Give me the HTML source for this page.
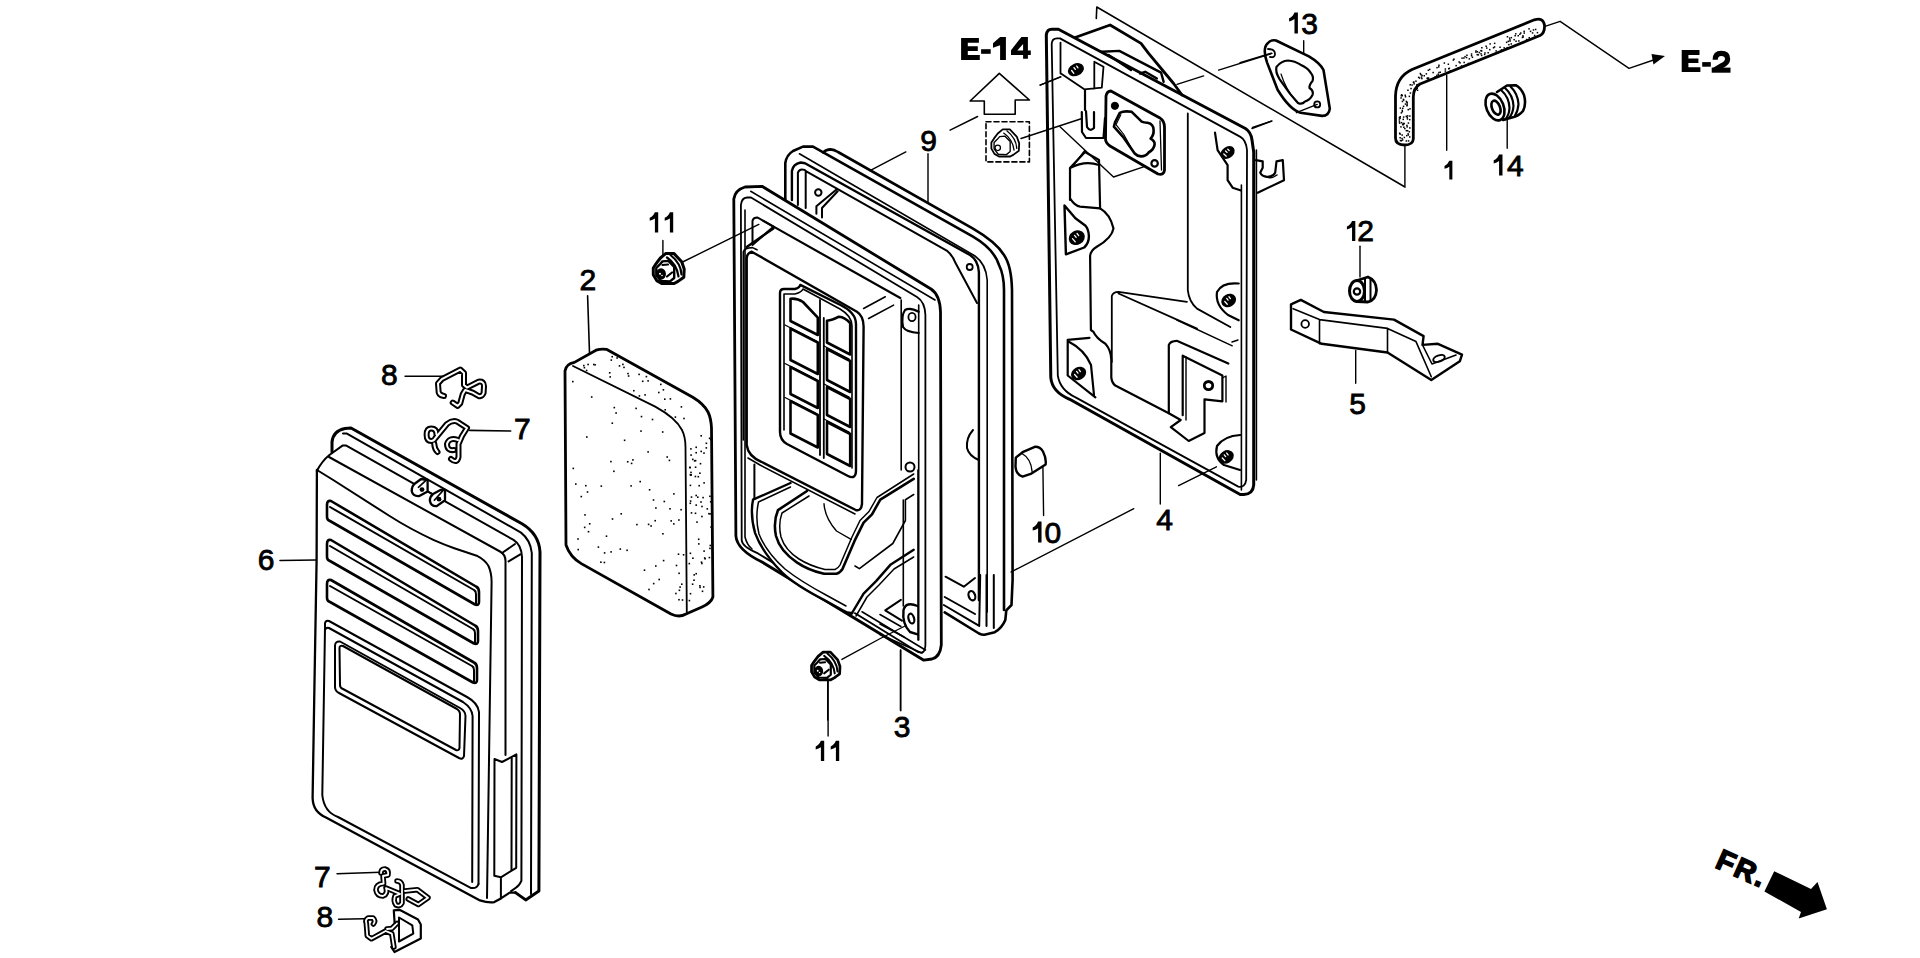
<!DOCTYPE html>
<html><head><meta charset="utf-8"><style>
html,body{margin:0;padding:0;background:#fff;width:1920px;height:958px;overflow:hidden}
svg{position:absolute;left:0;top:0;display:block}
text{font-family:"Liberation Sans",sans-serif;fill:#000}
</style></head><body>
<svg width="1920" height="958" viewBox="0 0 1920 958">
<g fill="none" stroke="#000" stroke-width="2" stroke-linejoin="round" stroke-linecap="round">
<!-- LID part 6 -->
<path stroke-width="3" d="M332,452 L332,442 Q333,431 345,428.5 L351,428 L522,523.8 Q539,534 540,552 L538.9,891.1 L525.7,899.9 L515.5,892.6"/>
<path d="M343,433.4 L346.5,433.4 L521,532.6 Q530.5,540 531.8,553 L531,894"/>
<path d="M316.8,471 Q322,461 329.4,455 L342.5,445.6 L346.3,445.6 L513.5,539.9 Q521.5,545 522,557 L521.4,880.9 Q519,886 516.2,887.5 L511.1,891.1"/>
<path d="M329,457 L500,551.5 Q505.5,554.5 505.5,561 L505.5,755"/>
<path d="M502,553 L515,544 M508.6,561.4 L520.3,554.4"/>
<path d="M317,470 L333.2,480 L389.6,516 Q410,529 433.9,540.1 Q445,545 454.3,548.2 L476.7,555.7 Q485,560 488.5,566 Q491.6,573 491.6,582 L487,898"/>
<path stroke-width="2.3" d="M316.9,470 L316.6,560 L314.2,700 L312.6,798 Q313,812 326,817.5 L480,900.4 Q488,903 494.3,902.1 L500.9,898.4 L509.7,892.6 L515.5,892.6"/>
<!-- slots -->
<path stroke-width="2.6" d="M327,505 Q327,500 331,501 L476,586.5 Q479,588 479,592 L479,602 Q479,606 475,604.5 L330,521 Q327,520 327,517 Z"/>
<path d="M330,507 L474,590 Q476,591 476,594 L476,604"/>
<path stroke-width="2.6" d="M327,544 Q327,539 331,540 L475,625.5 Q478,627 478,631 L478,641 Q478,645 474,643.5 L330,561 Q327,560 327,557 Z"/>
<path d="M330,546 L473,629 Q475,630 475,633 L475,643"/>
<path stroke-width="2.6" d="M327,584 Q327,579 331,580 L474,662.5 Q477,664 477,668 L477,680 Q477,684 473,682.5 L330,602 Q327,601 327,598 Z"/>
<path d="M330,586 L472,666 Q474,667 474,670 L474,682"/>
<!-- recess -->
<path d="M325,628 L325,623 Q326,620 329,621 L467,697 Q478,703 479,712 L478.5,884"/>
<path d="M325,630 Q326,627 329,628 L463,702 Q472,708 472.6,716 L472.2,882"/>
<path d="M325,628 L322.3,795 Q324,812 338,817 L470.7,887.9 Q477,889 478.5,884"/>
<!-- window -->
<path d="M335,646 Q335,641 340,641.5 L460,708 Q465.5,711 465.5,716 L464,756 Q463,760 459,758 L339,693 Q335,691 335,687 Z"/>
<path d="M339.5,648 Q339.5,645 343,646 L457,709 Q460,711 460,714 L459.5,748 Q459,751 456,750 L343,689 Q340,688 340,685 Z"/>
<!-- side slot -->
<path d="M494.3,875.8 L494.5,759 L502,762 L516.4,754.4 L516.2,867.8 L500.9,877.3 Z M500.9,877.3 L500.9,898.4"/>
<path d="M511.7,758 L511.5,870"/>
<!-- tabs -->
<path fill="#fff" stroke-width="2.3" d="M427.6,480 L427.6,491.4 L419.3,496 Q413,496.5 411.8,491.5 Q411.5,486 415,483.5 L421.1,479 Z"/><path stroke-width="1.6" d="M418.4,487.3 L425.7,480.6 M427.6,491.4 L431.7,493.5"/>
<path fill="#fff" stroke-width="2.3" d="M445,490 L445,500.2 L436.7,506.1 Q431,506.5 429.9,501 Q429.8,496.5 433,494 L440.4,490 Z"/><path stroke-width="1.6" d="M434.3,500.2 L442.3,491.4"/>
</g>
<g fill="none" stroke="#000" stroke-linejoin="round" stroke-linecap="round">
<!-- PART 9 gasket -->
<g id="p9">
<path stroke-width="2.6" d="M785.3,200 L785.3,163 Q786.5,155 793,151 L803,146.6 L813,146.6 L973,236.7 Q994,249 999,265 Q1004,275 1004,290 L1004,610"/>
<path stroke-width="2.6" d="M823.2,152.5 Q826,149.4 830.5,149.4 Q834,149.5 838,152 L973,228.7 Q996,242 1004,255 Q1011.5,266 1012,290 L1012.6,580 L1011.5,605 L1006.3,610.3 L1005.3,620 Q1002,628 994.8,632.2 L984.4,634.8 Q982,635 979,633.5 L944.7,612.4"/>
<path stroke-width="1.6" d="M799.4,153.8 L975,256 Q986,264 987.2,280 L987.2,612"/>
<path stroke-width="2.4" d="M791.9,200 L791.9,171 Q793,164 800.7,162.5 L805,163.2 L970,255 Q978,260 978.9,272 L978.9,600"/>
<path stroke-width="2" d="M797.9,205 L797.9,172.6 Q799,169.4 801.9,169.4 Q805,169.4 806.3,171.3 L946.7,250.6 Q953,256 955,262 L977,303 M805.7,171.3 L805.7,208"/>
<path stroke-width="2" d="M816.4,213.8 L816.4,206.3 L836.5,189.4 M822,217.6 L822,208 L837.7,191.3"/>
<circle cx="818.3" cy="192.5" r="3.2" stroke-width="2"/>
</g>
<!-- PART 3 filter case -->
<g id="p3">
<path stroke-width="2.8" fill="#fff" d="M735.9,536 L733.8,199 Q735,190 745,187 L762,186.3 L931,289 Q940,295 940.5,312 L941.3,645 Q940,657 932,659 L923.8,660.2 L762,562 Q737,550 735.9,536 Z"/>
<path stroke-width="1.6" d="M750.7,191.3 L935,300"/>
<path stroke-width="1.8" d="M741.7,540 L740.9,205 Q741.5,198 747,197.5 L751,197.5 L917,297 Q925,302 925.4,315 L925.4,645 Q925,655 918,652 L758,553.4 Q742,547 741.7,540 Z"/>
<path stroke-width="1.6" d="M745,210 L745,537 Q747,545 752,549 M862,611.8 L925.4,650"/>
<path fill="#fff" stroke="none" d="M753,499.7 L790.5,483 L855,512 L913.7,476 L913.7,547.7 L888.6,566.5 L876.1,581 L865.7,589.4 L855.3,612.3 L850,613.4 Q835,606 823.9,599.9 Q795,583 782.2,572.7 Q762,552 755.1,533.1 Q750,515 753,499.7 Z"/>

<!-- PART 2 foam -->
<path stroke-width="2.8" d="M565,371 Q566,364 574.4,362.4 L596,350.2 Q601,348.5 606.4,349.3 L692.8,397.2 Q704,404 708,412 Q711,418 711.5,428 L712.9,597 Q711,603 702,607 L686,614 Q679,618 671,614 L581.3,563.6 Q570,557 566,545 Z"/>
<path stroke-width="1.8" d="M573,366 L655.2,406.6 Q676,418 682,430 Q685.5,437 685.5,447 L686.8,612"/>
<path stroke-width="1.6" d="M587.6,295.7 L589.5,353"/>
<!-- nut 11 top -->
<g transform="translate(669,268.5)">
<path stroke-width="3" d="M-15.7,-0.5 L-12.7,-5.1 L-8.6,-10.5 L-3.1,-15.1 L4.8,-15.1 L12.7,-6.7 L15.2,0.4 L14.8,8.7 L9,12.9 L5.2,15 L-7.3,15 L-12.3,12.1 L-15.7,6.2 Z"/>
<path stroke-width="2.4" d="M-12.7,-0.5 L-9.4,-3.8 L-6.5,-7.1 L-0.6,-7.6 L5.2,-1.7 L5.2,9.5 L1,12.9 L-8.1,12.5 L-12.7,6.6 Z"/>
<path stroke-width="2.2" d="M-2,-11 Q8,-4 9.5,8 M1.5,-13.5 Q12,-5 12.5,6 M-6.5,-3.5 L-1,-4 M-2,8 L3,4"/>
<ellipse cx="-8" cy="5.6" rx="4.2" ry="5" fill="#000" stroke-width="1.5"/><circle cx="-9" cy="5.2" r="1" fill="#fff" stroke="none"/><circle cx="-7" cy="7" r="0.8" fill="#fff" stroke="none"/>

</g>
<path stroke-width="1.4" d="M662.9,240.4 L662.9,256.4 M682.6,262 L758.8,224.4"/>
<!-- nut 11 bottom -->
<g transform="translate(826,666) scale(0.92)">
<path stroke-width="3" d="M-15.7,-0.5 L-12.7,-5.1 L-8.6,-10.5 L-3.1,-15.1 L4.8,-15.1 L12.7,-6.7 L15.2,0.4 L14.8,8.7 L9,12.9 L5.2,15 L-7.3,15 L-12.3,12.1 L-15.7,6.2 Z"/>
<path stroke-width="2.4" d="M-12.7,-0.5 L-9.4,-3.8 L-6.5,-7.1 L-0.6,-7.6 L5.2,-1.7 L5.2,9.5 L1,12.9 L-8.1,12.5 L-12.7,6.6 Z"/>
<path stroke-width="2.2" d="M-2,-11 Q8,-4 9.5,8 M1.5,-13.5 Q12,-5 12.5,6 M-6.5,-3.5 L-1,-4 M-2,8 L3,4"/>
<ellipse cx="-8" cy="5.6" rx="4.2" ry="5" fill="#000" stroke-width="1.5"/><circle cx="-9" cy="5.2" r="1" fill="#fff" stroke="none"/><circle cx="-7" cy="7" r="0.8" fill="#fff" stroke="none"/>

</g>
<path stroke-width="1.4" d="M841.9,659.4 L880.3,638.5 L905,626 M827.7,679 L827.7,720 M900.4,650.2 L900.4,710.3"/>
<!-- nut in dashed box -->
<g transform="translate(1005.5,143) scale(0.9)">
<path stroke-width="2" d="M-15.7,-0.5 L-12.7,-5.1 L-8.6,-10.5 L-3.1,-15.1 L4.8,-15.1 L12.7,-6.7 L15.2,0.4 L14.8,8.7 L9,12.9 L5.2,15 L-7.3,15 L-12.3,12.1 L-15.7,6.2 Z"/>
<path stroke-width="1.5" d="M-12.7,-0.5 L-9.4,-3.8 L-6.5,-7.1 L-0.6,-7.6 L5.2,-1.7 L5.2,9.5 L1,12.9 L-8.1,12.5 L-12.7,6.6 Z"/>
<path stroke-width="1.4" d="M-2,-11 Q8,-4 9.5,8 M1.5,-13.5 Q12,-5 12.5,6"/>
<circle cx="-8.6" cy="5.4" r="3" stroke-width="1.4"/>
</g>
<rect x="986" y="121.8" width="43.4" height="40.1" stroke-width="1.6" stroke-dasharray="5,3"/>
<path stroke-width="1.4" d="M1021,138.5 L1082,118.5"/>

<!-- PART 4 base -->
<g id="p4">
<path stroke-width="1.6" d="M1096.3,18.4 L1096.8,7 L1405,187"/>
<path stroke-width="2.8" d="M1075.1,37.5 L1110.1,25 L1141,43.4 L1148.6,53.4 L1165.3,73.5 L1173.6,83.5 L1182,95"/>
<path stroke-width="3" d="M1050.8,377.5 L1046.3,35 Q1047,29.2 1051.7,29.2 L1058.4,29.2 L1245.4,128.5 Q1251,132 1252,140 L1253.7,152 L1253.7,485 Q1253,494 1244,494.5 L1240.2,494.5 L1069.7,399.3 Q1052,392 1050.8,377.5 Z"/>
<path stroke-width="1.8" d="M1057.8,375.5 L1051.7,44 Q1052,38.4 1057,38.4 L1060,38.4 L1240.4,136.9 Q1246,140 1247,150 L1246.2,480 Q1245,488 1238.3,486.6 L1075.6,397.4 Q1060,390 1057.8,375.5 Z"/>
<path stroke-width="2.4" d="M1101.8,51.7 L1119.3,50.9 L1161.1,72.6 L1163.6,81.8 M1108.5,55.1 L1131,70 M1140.2,73.5 L1145.2,71.8 L1156.9,78.5"/>
<path stroke-width="1.8" d="M1060.5,42.6 L1060.5,73.5 M1060.9,73.5 L1084.3,89.3 L1101.8,87.7 L1103.5,66.8 L1094.3,61.8 M1094.3,61.8 L1094.3,88.5"/>
<g transform="translate(1075.9 69.7) rotate(-25)"><ellipse rx="7.6" ry="5.4" fill="#000" stroke="#000" stroke-width="1.5"/><path stroke="#fff" stroke-width="1.3" d="M-4.2,-1.1 L-3.4,2.4 M-0.8,-2.7 L-0.4,-0.5 M2.3,-3.0 L2.7,-0.8"/></g>
<path stroke-width="1.4" d="M1040,85.1 L1060.9,76.8 M1177,84.3 L1203.6,75.9 M1218.6,70.1 L1272,53.4 M1252,128.5 L1272,121"/>
<!-- flange -->
<path stroke-width="2.8" d="M1106,96 Q1107,91 1110.9,91 L1159.5,117.7 Q1164.5,121 1164.5,127 L1164.5,170 Q1164,175.5 1158,174 L1110,146 Q1105.5,143 1105.5,139 Z"/><path stroke-width="1.3" d="M1160,121 L1161.5,170"/>
<path stroke-width="2.6" d="M1114.9,122.7 L1119.8,112.8 Q1124,110.5 1131.7,111.8 L1141.7,121.7 Q1144,122.8 1147.6,122.7 Q1153.6,124 1153.6,130 Q1154,135 1150.6,138.6 Q1155,141 1154.6,144.5 Q1154,149.5 1148.6,152.5 Q1146,156.4 1141,156.4 Q1137,156 1134.7,153.5 L1122.8,136.6 L1113.9,126.7 Z"/>
<path stroke-width="1.2" d="M1120.8,114.8 L1116,124.7 L1123.8,134.5 L1133,151"/>
<circle cx="1114.9" cy="105.8" r="3.6" fill="#000" stroke-width="1"/>
<circle cx="1154.6" cy="163.4" r="3.2" stroke-width="2.2"/>
<!-- U slot -->
<path stroke-width="2.2" d="M1081.8,112 L1082,132 L1086,138 L1103.5,138 L1105,118 M1086,111 L1087,127 Q1090,132 1094,128 L1094,112 M1085,90 L1085,110"/>
<path stroke-width="1.4" d="M1060,126.8 L1085,150.2 L1113.5,177 L1143.5,166.9 M1085,150.2 L1073.4,165.2"/>
<!-- left cylinder boss -->
<path stroke-width="2.2" d="M1070,200 L1070,168 L1085,152 L1099,160 L1100.1,208.4 M1070,168 Q1085,160 1099,165 M1070,198.4 Q1075,206 1080.1,206.7 L1100.1,208.4"/>
<path stroke-width="2.2" d="M1100.1,208.4 Q1110,214 1113.5,228.4 Q1112,238 1096.8,246.8 Q1090,251 1090.1,256.8 L1090.9,330 L1093.5,331.9 Q1096,338 1105.4,343.8 Q1111,350 1111.3,359.7 L1111.3,377.5 Q1112,383 1115.3,385.5 L1168.8,413.2"/>
<path stroke-width="2.4" d="M1064.5,205.4 L1065.9,254.3 L1084.2,247.5 Q1089,243 1088.9,236 Q1088.5,229 1085.5,225.8 L1075.4,218.3 Z"/>
<g transform="translate(1076.8 237.7) rotate(-30)"><ellipse rx="7.6" ry="6.3" fill="#000" stroke="#000" stroke-width="1.5"/><path stroke="#fff" stroke-width="1.3" d="M-4.2,-1.3 L-3.4,2.8 M-0.8,-3.1 L-0.4,-0.6 M2.3,-3.5 L2.7,-0.9"/></g>
<path stroke-width="2.2" d="M1067.7,339.8 L1067.7,375.5 L1095.4,397.4 M1067.7,339.8 L1089.5,337.9 M1067.7,341 Q1085,350 1091,365 L1094,395"/>
<g transform="translate(1078.6 373.5) rotate(-30)"><ellipse rx="7.2" ry="5.6" fill="#000" stroke="#000" stroke-width="1.5"/><path stroke="#fff" stroke-width="1.3" d="M-4.0,-1.1 L-3.2,2.5 M-0.7,-2.8 L-0.4,-0.6 M2.2,-3.1 L2.5,-0.8"/></g>
<!-- center lower recess -->
<path stroke-width="1.8" d="M1187.8,113.5 L1187.8,290.2 Q1189,302 1197,308.6 L1230.3,327 M1111.8,362 L1111.8,296 Q1113,292 1118.5,291.9 L1186.9,301.9 M1118.5,293.5 L1197,328.6"/>
<!-- L bracket -->
<path stroke-width="2.2" d="M1168.8,413.2 L1168.8,345 Q1170,341 1176.8,340.8 L1228.3,363.6 M1182.7,415.2 L1182.7,355.7 L1222.4,375.5 L1222.4,401.3 L1204.5,399.3 L1204.5,433 L1188.7,441 L1170.8,427.1 L1180.7,420 L1168.8,413.2"/>
<path stroke-width="1.4" d="M1186,357 L1186,420 M1222.4,378 L1226,376 L1226,402"/>
<circle cx="1208.5" cy="385.5" r="4.2" stroke-width="2.8"/><path stroke-width="1.6" d="M1206,383 Q1208,381.5 1211,383"/>
<!-- right studs / bosses -->
<path stroke-width="2.2" d="M1238.7,283.5 Q1222,282 1217,292 Q1215,305 1228,315 L1238.7,320.3"/>
<g transform="translate(1228.7 300.5) rotate(-30)"><ellipse rx="7.0" ry="5.6" fill="#000" stroke="#000" stroke-width="1.5"/><path stroke="#fff" stroke-width="1.3" d="M-3.9,-1.1 L-3.1,2.5 M-0.7,-2.8 L-0.4,-0.6 M2.1,-3.1 L2.4,-0.8"/></g>
<path stroke-width="2.2" d="M1240.2,435 Q1224,436 1217,446 Q1214,458 1224,465 L1240,470"/>
<g transform="translate(1226.3 456.9) rotate(-30)"><ellipse rx="7.2" ry="5.6" fill="#000" stroke="#000" stroke-width="1.5"/><path stroke="#fff" stroke-width="1.3" d="M-4.0,-1.1 L-3.2,2.5 M-0.7,-2.8 L-0.4,-0.6 M2.2,-3.1 L2.5,-0.8"/></g>
<path stroke-width="2.2" d="M1215,132.6 L1217.6,150.1 L1227.6,165.2 L1227.6,180.2 L1232.6,187.7 L1241,190.5"/>
<g transform="translate(1227.6 152.6) rotate(-35)"><ellipse rx="7.0" ry="5.0" fill="#000" stroke="#000" stroke-width="1.5"/><path stroke="#fff" stroke-width="1.3" d="M-3.9,-1.0 L-3.1,2.2 M-0.7,-2.5 L-0.4,-0.5 M2.1,-2.8 L2.4,-0.8"/></g>
<path stroke-width="2.2" d="M1256,160.2 L1262.7,161.4 L1262.7,167.7 L1260.2,172.7 Q1262,177 1267.7,176.8 Q1274,176 1275.2,172.7 L1276.5,161.4 L1282.8,160.2 L1284,180.2 L1257.7,192.7"/>
<path stroke-width="1.4" d="M1265,176 Q1270,180 1277,175"/>
<path stroke-width="1.6" d="M1241.4,185 L1241.4,490 M1256.4,150 L1256.4,480"/>
<path stroke-width="1.4" d="M1176.8,320 L1232.3,345.8 M1232,342 L1238,340"/>
</g>

<!-- gasket 13 -->
<path stroke-width="2.6" d="M1267.1,62.6 Q1262,48 1268,43 Q1271,39.5 1276,40.5 L1308.9,56.4 Q1320,63 1323.5,70 L1329.8,108.6 Q1329,116 1322,115.9 L1300.5,112.7 Q1290,110 1277.6,89.8 Z"/>
<path stroke-width="2.2" d="M1276.5,66.8 Q1281,61 1288,60.5 Q1295,61 1300.5,64.7 Q1308,68 1311,73.1 Q1314,77 1312.5,81 Q1309,85 1309.5,88 Q1314,91 1312.5,95 Q1310,100 1305,101.5 Q1302,105 1298,103 L1290.1,93.9 L1279.7,79.3 Q1275,72 1276.5,66.8 Z"/>
<path stroke-width="1.2" d="M1281,74 Q1286,90 1296,101"/>
<path stroke-width="1.8" d="M1268,49 Q1275,49 1275,54 Q1275,58 1270,57"/>
<circle cx="1317.2" cy="104.4" r="3" stroke-width="1.8"/>
<path stroke-width="1.4" d="M1303.7,40.7 L1303.7,54.3 M1240,62.6 L1271.3,53.2 M1296.4,112.7 L1317.2,104.4 M1252.5,127.3 L1271.3,121.1"/>
<!-- tube 1 -->
<path stroke-width="2.8" d="M1395.5,138 L1395.5,96 Q1396,77 1412,69.5 L1534.4,19.8 Q1543,17 1544.5,25 Q1545,33 1540,35.5 L1420,84 Q1413.3,88 1413.3,97 L1413.3,139 Q1413,145 1404.5,145 Q1395.5,145 1395.5,138 Z"/>
<path stroke-width="1.4" d="M1404.9,146.1 L1404.9,185.8 M1446.7,75.2 L1446.7,150.3 M1545,26.3 L1560.1,21.3 L1629,68.3 L1658,58.5"/>
<path fill="#000" stroke="none" d="M1665,56 L1651.5,54 L1653.5,64.5 Z"/>
<!-- grommet 14 -->
<path stroke-width="2.6" d="M1497,92 L1507,85.5 L1515.7,85.2 Q1521,88 1524,95 Q1526.5,104 1523,111 Q1519,116 1512,117.5 L1503,120"/>
<path stroke-width="2.2" d="M1501.5,90.5 Q1509,97 1509.5,108 Q1509,116 1505,119.5 M1505,88 Q1513,95 1513.5,106 Q1513,113 1509.5,117.5 M1510.5,86.5 Q1518,94 1518.5,104 Q1518,111 1515,115.5"/>
<ellipse cx="1495" cy="107" rx="8.6" ry="14" transform="rotate(-22 1495 107)" fill="#fff" stroke-width="2.6"/>
<ellipse cx="1496" cy="107.7" rx="4" ry="7.4" transform="rotate(-22 1496 107.7)" stroke-width="2.6"/>
<path stroke-width="1.4" d="M1507.2,117 L1507.2,148.2"/>
<!-- nut 12 -->
<ellipse cx="1357" cy="291" rx="7.5" ry="10.5" stroke-width="3"/>
<circle cx="1357" cy="291.5" r="3.2" stroke-width="2.2"/>
<path stroke-width="2.8" d="M1357,280.5 L1368,277 Q1376,280 1376.5,290 Q1376,300 1368,302 L1357,301.5"/>
<path stroke-width="2" d="M1365,279 L1365,301 M1370.5,279 L1370.5,300.5"/>
<path stroke-width="1.4" d="M1360,246.2 L1360,277"/>
<!-- bracket 5 -->
<path stroke-width="2.4" d="M1291,304.3 L1300.8,299.9 L1323.9,312 L1394,319.6 L1423.6,336.1 L1422.5,344.9 L1437.9,343.8 L1462,354.7 L1459.8,361.3 L1431.3,380 L1387.5,352.5 L1321.7,343.8 L1291,329.5 Z"/>
<path stroke-width="1.6" d="M1293.2,308.7 L1319.5,319.6 L1319.5,343.8 M1319.5,319.6 L1387.5,328.4 L1387.5,352.5 M1387.5,328.4 L1416,341.6 L1431.3,376.7 M1425,350 L1432,364 L1456,355 M1422.5,344.9 L1425,350"/>
<ellipse cx="1439" cy="358.5" rx="6" ry="3" transform="rotate(-20 1439 358.5)" stroke-width="2"/>
<circle cx="1305.2" cy="324" r="3.8" stroke-width="1.8"/>
<path stroke-width="1.4" d="M1355.7,350.4 L1355.7,383.2"/>
<!-- part 10 cylinder -->
<g transform="translate(0,0.5)"><path stroke-width="2.4" d="M1015.8,457.1 L1022.6,451.7 L1034.8,446.3 Q1040,446 1043,451 Q1046.5,458 1045.6,464 L1030.7,473.4 L1022.6,476.1 Q1016,474 1015.5,466 Z"/>
<path stroke-width="1.4" d="M1022,453 Q1031,458 1032.1,471"/></g>
<path stroke-width="1.4" d="M1042.9,466.6 L1043.6,515.5 M1160.3,453.1 L1160.3,504 M1011,572 L1133.8,508.7 M1178.6,485.6 L1216.4,466.8"/>
<!-- leaders 3, 11 bottom -->
<path stroke-width="1.4" d="M828.1,680 L828.1,736 M900.8,650 L900.8,710.7"/>
<!-- FR arrow -->
<path fill="#000" stroke="none" d="M1774.2,871.2 L1811,889 L1817.5,882 L1826.9,909.2 L1798.7,918.6 L1801,912 L1764.4,891.4 Z"/>
<!-- E-14 arrow -->
<path stroke-width="1.6" d="M999.3,73.4 L1029.4,100 L1015.2,100 L1015.2,114.3 L984.3,114.3 L984.3,101 L970.1,101 Z"/>
<!-- 9 leaders -->
<path stroke-width="1.4" d="M928,153.6 L928,203 M905.8,151.9 L870,170.7 M950.1,130.2 L977.6,116.5 M1040.2,85.1 L1060.3,76.8"/>
<!-- leaders for 6,7,8 -->
<path stroke-width="1.6" d="M280,560.5 L316,560 M405.1,376.3 L443.5,376.3 M469.7,430.4 L510.7,431 M337.1,873.8 L380.6,872.3 M338.6,919.3 L364.2,918.8"/>

<!-- part3 inner: box face -->
<path stroke-width="2.4" d="M746.7,445 L746.7,258 Q747,253.4 751.7,251.7 L856.9,311.8 Q863.6,316 863.6,326.8 L862,504 Q861,512 855.3,509.8 L761.3,461.8 Q748,456 746.7,445"/>
<path stroke-width="1.6" d="M743.3,440 L743.3,252 Q744,248 752.5,247.6 L757,249.8 M748,458 L760,465 L855,514"/>
<!-- gusset top-left -->
<path stroke-width="2" d="M752.5,245 L752.5,221 Q753,217.5 757.6,217.5 L763.4,220.9 L773.4,226.7 L752.5,245"/>
<path stroke-width="2.4" d="M773.4,228.4 L746.7,247"/>
<path stroke-width="2.2" d="M763.4,220.9 L900.3,298"/>
<path stroke-width="1.6" d="M863.6,308.5 L885.3,296.8 M868.6,318.5 L893.6,305.1"/>
<path stroke-width="1.6" d="M901.2,300 L901.2,470 M918.7,305 L918.7,640"/>
<path stroke-width="2.2" d="M918.7,311.8 Q910,307 905,310 Q901,316 903,327 Q906,332 918.7,333"/>
<ellipse cx="912" cy="317" rx="3.6" ry="4.2" stroke-width="1.8"/>
<!-- grid panel -->
<path stroke-width="2.4" d="M780,432 L780,293 Q780,289 784,289 L794.9,289 Q800,287.5 800.3,284.9 L841,305.3 Q856,313 856,324 L856,470 Q856,480 848,476 L787,444 Q780,440 780,432 Z"/>
<path stroke-width="1.6" d="M784,430 L784,294 L795,294 Q802,292 803,289 L840,309 Q852,316 852,326 L852,468"/>
<path stroke-width="1.8" d="M820,300 L820,455 M823.8,318 L823.8,458"/>
<path stroke-width="2.6" d="M790.5,298.8 Q797,298 803,302 L817.8,317.6 L817.8,335 L790.5,321 Z"/>
<path stroke-width="2.6" d="M790.5,328.5 L817.8,342.5 L817.8,374 L790.5,360 Z"/>
<path stroke-width="2.6" d="M790.5,367 L817.8,381 L817.8,408 L790.5,394 Z"/>
<path stroke-width="2.6" d="M790.5,401 L817.8,415 L817.8,447.5 L790.5,433.5 Z"/>
<path stroke-width="2.6" d="M827,320.8 Q832,320.4 838.9,316.7 Q845,317 850.2,323.2 L850.2,354.5 L827,342.5 Z"/>
<path stroke-width="2.6" d="M827,349 L850.2,361 L850.2,392 L827,380 Z"/>
<path stroke-width="2.6" d="M827,387 L850.2,399 L850.2,427 L827,415 Z"/>
<path stroke-width="2.6" d="M827,422 L850.2,434 L850.2,466 L827,454 Z"/>
<path stroke-width="1.4" d="M785,325 L816,341 M785,363.5 L816,379.5 M785,397.5 L816,413.5 M824,346 L849,359 M824,384 L849,397 M824,419 L849,432"/>
<!-- duct -->
<path stroke-width="2.4" d="M790.5,483 L753,499.7 Q750,515 755.1,533.1 Q762,552 782.2,572.7 Q795,585 823.9,599.9 L842.7,610.3 Q848,613.5 852,613"/>
<path stroke-width="1.5" d="M790.5,487 L758.5,502 Q755,518 759,534 Q766,552 785,569 Q800,581 826,595 L846,606"/>
<path stroke-width="2.6" d="M807,491 L778,510.1 Q773,522 776,536 Q780,551 796.8,562.3 Q808,570 824,573.8 L836.5,573.8 Q840.5,572.5 842.7,568.6 L855.3,539.3 L863.6,522.6 L872,514.3 L880.3,499.7 L913.7,478.8"/>
<path stroke-width="1.5" d="M809,496 L782,513 Q778,524 781,537 Q785,550 799,559 Q810,566 825,569.5 L835,569.5 Q838,568.5 840,565 L852,537 L860,520.5 L869,511.5 L877,497.5 L913.7,474"/>
<path stroke-width="1.4" d="M824,503.8 Q825,518 836.5,531 L851.1,539.3"/>
<path stroke-width="2" d="M754.4,464.5 L754.4,499"/>
<path stroke-width="2.4" d="M851.1,614.5 L863.6,593.6 L876.1,581.1 L890.8,564.4 L913.7,549.8"/>
<path stroke-width="1.5" d="M856,616 L867,597 L879,585 L894,569 L913.7,557"/>
<path stroke-width="1.6" d="M859.4,568.6 L892.8,543.5 L905.4,520.5 L905.4,499.7 L913.7,494.5 M859.4,568.6 L855,566"/>
<path stroke-width="1.6" d="M903.3,500 L903.3,606 M918,470 L918,640"/>
<circle cx="910" cy="467" r="4.5" stroke-width="2"/>
<path stroke-width="2.4" d="M917.6,606 Q906,601 903.5,610 Q902,624 910,632 L917.6,634.3"/><ellipse cx="911.3" cy="618.6" rx="2.8" ry="5" transform="rotate(-15 911.3 618.6)" stroke-width="2.2"/>
<path stroke-width="2" d="M900.9,599.8 L885.2,610.3 L901.9,620.7"/>
<path stroke-width="1.6" d="M880,614.5 L900.9,626.5 M880,624 L904,637 M880,634.5 L921.8,653"/>
<!-- part9 right visible details -->
<path stroke-width="2" d="M973,430 Q966,438 967,448 Q969,456 978.9,460"/>
<path stroke-width="2" d="M945.5,576.7 L963.8,586.7 L975,578 M943.8,605 L979.2,625.9 L980.2,575 M944.7,597 L975,614 M986.5,575 L986.5,626 M993.8,575 L993.8,628"/>
<ellipse cx="971.9" cy="595.7" rx="3.2" ry="4.8" transform="rotate(-20 971.9 595.7)" stroke-width="2.2"/>
<circle cx="969.7" cy="267" r="3" stroke-width="1.8"/>

</g>
</g>
<g fill="#000"><circle cx="422" cy="489.6" r="2.4"/><circle cx="439" cy="499.2" r="2.4"/></g>
<g fill="#000"><rect x="643.7" y="569.4" width="1.6" height="1.6"/><rect x="635.3" y="407.6" width="1.6" height="1.6"/><rect x="588.9" y="523.0" width="1.6" height="1.6"/><rect x="640.2" y="430.3" width="1.6" height="1.6"/><rect x="668.6" y="459.6" width="1.6" height="1.6"/><rect x="681.0" y="583.4" width="1.6" height="1.6"/><rect x="679.3" y="586.3" width="1.6" height="1.6"/><rect x="611.5" y="422.4" width="1.6" height="1.6"/><rect x="605.7" y="535.4" width="1.6" height="1.6"/><rect x="577.4" y="548.8" width="1.6" height="1.6"/><rect x="655.0" y="565.2" width="1.6" height="1.6"/><rect x="572.0" y="380.8" width="1.6" height="1.6"/><rect x="675.1" y="592.7" width="1.6" height="1.6"/><rect x="632.1" y="459.1" width="1.6" height="1.6"/><rect x="590.9" y="396.2" width="1.6" height="1.6"/><rect x="648.2" y="588.7" width="1.6" height="1.6"/><rect x="663.5" y="500.7" width="1.6" height="1.6"/><rect x="577.2" y="538.2" width="1.6" height="1.6"/><rect x="626.3" y="549.5" width="1.6" height="1.6"/><rect x="652.9" y="582.8" width="1.6" height="1.6"/><rect x="587.7" y="530.9" width="1.6" height="1.6"/><rect x="680.3" y="508.9" width="1.6" height="1.6"/><rect x="652.7" y="499.2" width="1.6" height="1.6"/><rect x="681.7" y="599.2" width="1.6" height="1.6"/><rect x="626.9" y="461.0" width="1.6" height="1.6"/><rect x="611.7" y="518.2" width="1.6" height="1.6"/><rect x="678.1" y="519.2" width="1.6" height="1.6"/><rect x="636.1" y="523.8" width="1.6" height="1.6"/><rect x="651.7" y="418.7" width="1.6" height="1.6"/><rect x="620.4" y="513.0" width="1.6" height="1.6"/><rect x="647.8" y="523.6" width="1.6" height="1.6"/><rect x="623.8" y="439.5" width="1.6" height="1.6"/><rect x="586.0" y="436.2" width="1.6" height="1.6"/><rect x="597.6" y="546.3" width="1.6" height="1.6"/><rect x="583.9" y="526.6" width="1.6" height="1.6"/><rect x="575.0" y="483.3" width="1.6" height="1.6"/><rect x="678.3" y="572.5" width="1.6" height="1.6"/><rect x="662.1" y="533.0" width="1.6" height="1.6"/><rect x="678.2" y="598.9" width="1.6" height="1.6"/><rect x="610.3" y="551.1" width="1.6" height="1.6"/><rect x="613.1" y="470.5" width="1.6" height="1.6"/><rect x="603.6" y="561.7" width="1.6" height="1.6"/><rect x="678.6" y="589.5" width="1.6" height="1.6"/><rect x="600.1" y="561.4" width="1.6" height="1.6"/><rect x="572.5" y="467.6" width="1.6" height="1.6"/><rect x="675.7" y="564.7" width="1.6" height="1.6"/><rect x="584.2" y="514.1" width="1.6" height="1.6"/><rect x="630.8" y="462.6" width="1.6" height="1.6"/><rect x="630.3" y="485.1" width="1.6" height="1.6"/><rect x="654.4" y="519.9" width="1.6" height="1.6"/><rect x="670.4" y="520.1" width="1.6" height="1.6"/><rect x="650.3" y="525.2" width="1.6" height="1.6"/><rect x="673.1" y="493.1" width="1.6" height="1.6"/><rect x="666.4" y="456.2" width="1.6" height="1.6"/><rect x="648.8" y="489.0" width="1.6" height="1.6"/><rect x="658.4" y="578.7" width="1.6" height="1.6"/><rect x="661.9" y="431.2" width="1.6" height="1.6"/><rect x="662.8" y="559.8" width="1.6" height="1.6"/><rect x="682.8" y="554.0" width="1.6" height="1.6"/><rect x="677.7" y="553.4" width="1.6" height="1.6"/><rect x="603.8" y="552.1" width="1.6" height="1.6"/><rect x="639.4" y="480.8" width="1.6" height="1.6"/><rect x="640.7" y="415.8" width="1.6" height="1.6"/><rect x="613.5" y="406.8" width="1.6" height="1.6"/><rect x="673.0" y="523.1" width="1.6" height="1.6"/><rect x="600.5" y="485.3" width="1.6" height="1.6"/><rect x="655.1" y="507.2" width="1.6" height="1.6"/><rect x="580.5" y="495.8" width="1.6" height="1.6"/><rect x="585.0" y="484.9" width="1.6" height="1.6"/><rect x="669.2" y="508.0" width="1.6" height="1.6"/><rect x="647.3" y="451.1" width="1.6" height="1.6"/><rect x="586.7" y="491.2" width="1.6" height="1.6"/><rect x="610.1" y="460.8" width="1.6" height="1.6"/><rect x="619.5" y="548.3" width="1.6" height="1.6"/><rect x="615.3" y="412.2" width="1.6" height="1.6"/><rect x="689.4" y="466.8" width="1.6" height="1.6"/><rect x="699.1" y="585.0" width="1.6" height="1.6"/><rect x="688.5" y="562.8" width="1.6" height="1.6"/><rect x="708.1" y="512.9" width="1.6" height="1.6"/><rect x="697.9" y="538.5" width="1.6" height="1.6"/><rect x="690.7" y="512.1" width="1.6" height="1.6"/><rect x="692.0" y="458.6" width="1.6" height="1.6"/><rect x="697.0" y="496.4" width="1.6" height="1.6"/><rect x="691.8" y="583.4" width="1.6" height="1.6"/><rect x="694.6" y="475.7" width="1.6" height="1.6"/><rect x="694.8" y="459.8" width="1.6" height="1.6"/><rect x="699.1" y="472.4" width="1.6" height="1.6"/><rect x="708.8" y="437.5" width="1.6" height="1.6"/><rect x="709.1" y="495.5" width="1.6" height="1.6"/><rect x="703.3" y="550.3" width="1.6" height="1.6"/><rect x="709.3" y="513.1" width="1.6" height="1.6"/><rect x="703.2" y="452.3" width="1.6" height="1.6"/><rect x="703.3" y="482.1" width="1.6" height="1.6"/><rect x="692.1" y="557.4" width="1.6" height="1.6"/><rect x="689.0" y="466.6" width="1.6" height="1.6"/><rect x="690.2" y="471.6" width="1.6" height="1.6"/><rect x="709.9" y="501.0" width="1.6" height="1.6"/><rect x="695.4" y="494.7" width="1.6" height="1.6"/><rect x="694.7" y="512.5" width="1.6" height="1.6"/><rect x="704.3" y="558.0" width="1.6" height="1.6"/><rect x="693.8" y="460.1" width="1.6" height="1.6"/><rect x="709.2" y="547.6" width="1.6" height="1.6"/><rect x="698.0" y="543.1" width="1.6" height="1.6"/><rect x="688.6" y="599.8" width="1.6" height="1.6"/><rect x="705.6" y="442.5" width="1.6" height="1.6"/><rect x="689.5" y="502.5" width="1.6" height="1.6"/><rect x="710.3" y="526.3" width="1.6" height="1.6"/><rect x="696.2" y="521.3" width="1.6" height="1.6"/><rect x="690.1" y="448.1" width="1.6" height="1.6"/><rect x="699.3" y="586.6" width="1.6" height="1.6"/><rect x="689.7" y="592.9" width="1.6" height="1.6"/><rect x="689.6" y="473.9" width="1.6" height="1.6"/><rect x="689.8" y="500.3" width="1.6" height="1.6"/><rect x="697.5" y="475.9" width="1.6" height="1.6"/><rect x="689.6" y="484.6" width="1.6" height="1.6"/><rect x="709.9" y="438.5" width="1.6" height="1.6"/><rect x="699.7" y="462.9" width="1.6" height="1.6"/><rect x="700.2" y="501.2" width="1.6" height="1.6"/><rect x="695.4" y="446.5" width="1.6" height="1.6"/><rect x="700.4" y="450.6" width="1.6" height="1.6"/><rect x="701.7" y="590.5" width="1.6" height="1.6"/><rect x="693.2" y="579.4" width="1.6" height="1.6"/><rect x="700.4" y="435.0" width="1.6" height="1.6"/><rect x="701.1" y="515.7" width="1.6" height="1.6"/><rect x="702.3" y="496.8" width="1.6" height="1.6"/><rect x="708.6" y="556.8" width="1.6" height="1.6"/><rect x="698.4" y="484.9" width="1.6" height="1.6"/><rect x="693.4" y="574.1" width="1.6" height="1.6"/><rect x="695.4" y="451.9" width="1.6" height="1.6"/><rect x="705.5" y="447.1" width="1.6" height="1.6"/><rect x="695.4" y="572.9" width="1.6" height="1.6"/><rect x="690.3" y="454.3" width="1.6" height="1.6"/><rect x="690.4" y="474.1" width="1.6" height="1.6"/><rect x="701.2" y="505.7" width="1.6" height="1.6"/><rect x="689.9" y="474.2" width="1.6" height="1.6"/><rect x="689.6" y="552.5" width="1.6" height="1.6"/><rect x="694.8" y="466.4" width="1.6" height="1.6"/><rect x="690.7" y="496.3" width="1.6" height="1.6"/><rect x="695.4" y="504.3" width="1.6" height="1.6"/><rect x="700.7" y="561.4" width="1.6" height="1.6"/><rect x="702.9" y="586.1" width="1.6" height="1.6"/><rect x="701.1" y="562.7" width="1.6" height="1.6"/><rect x="706.5" y="508.1" width="1.6" height="1.6"/><rect x="709.5" y="544.7" width="1.6" height="1.6"/><rect x="703.9" y="557.2" width="1.6" height="1.6"/><rect x="609.4" y="376.1" width="1.6" height="1.6"/><rect x="622.1" y="363.6" width="1.6" height="1.6"/><rect x="587.3" y="363.7" width="1.6" height="1.6"/><rect x="608.9" y="372.0" width="1.6" height="1.6"/><rect x="611.4" y="355.9" width="1.6" height="1.6"/><rect x="664.0" y="398.4" width="1.6" height="1.6"/><rect x="583.0" y="364.8" width="1.6" height="1.6"/><rect x="594.3" y="364.0" width="1.6" height="1.6"/><rect x="674.6" y="416.3" width="1.6" height="1.6"/><rect x="647.3" y="380.1" width="1.6" height="1.6"/><rect x="627.2" y="372.8" width="1.6" height="1.6"/><rect x="616.3" y="357.2" width="1.6" height="1.6"/><rect x="644.3" y="394.1" width="1.6" height="1.6"/><rect x="660.0" y="383.6" width="1.6" height="1.6"/><rect x="638.3" y="373.6" width="1.6" height="1.6"/><rect x="658.0" y="391.7" width="1.6" height="1.6"/><rect x="683.2" y="417.7" width="1.6" height="1.6"/><rect x="593.0" y="363.7" width="1.6" height="1.6"/><rect x="680.6" y="406.1" width="1.6" height="1.6"/><rect x="627.8" y="375.2" width="1.6" height="1.6"/><rect x="664.4" y="409.0" width="1.6" height="1.6"/><rect x="638.6" y="395.1" width="1.6" height="1.6"/><rect x="645.6" y="375.8" width="1.6" height="1.6"/><rect x="669.6" y="398.1" width="1.6" height="1.6"/><rect x="585.8" y="369.7" width="1.6" height="1.6"/><rect x="583.6" y="366.9" width="1.6" height="1.6"/><rect x="633.0" y="389.9" width="1.6" height="1.6"/><rect x="623.2" y="366.6" width="1.6" height="1.6"/><rect x="610.5" y="359.3" width="1.6" height="1.6"/><rect x="641.9" y="380.5" width="1.6" height="1.6"/><rect x="662.6" y="389.0" width="1.6" height="1.6"/><rect x="618.7" y="365.1" width="1.6" height="1.6"/></g>
<g fill="none" stroke-linejoin="round" stroke-linecap="round">
<path stroke="#000" stroke-width="6" d="M444,396 Q438,395 438.5,390 L438,383.4 L441.8,379.2 L460.2,369.6 L464,373 L464,385 L466.9,387.6 L478.6,381.7 Q484,381 484,386 L483.6,393 Q482,397 478.6,396 L472.7,392.6 L465.2,390 L462.7,394.2 L460.2,403.4 L457.7,405.9 L452.7,402.6"/>
<path stroke="#fff" stroke-width="2" d="M444,396 Q438,395 438.5,390 L438,383.4 L441.8,379.2 L460.2,369.6 L464,373 L464,385 L466.9,387.6 L478.6,381.7 Q484,381 484,386 L483.6,393 Q482,397 478.6,396 L472.7,392.6 L465.2,390 L462.7,394.2 L460.2,403.4 L457.7,405.9 L452.7,402.6"/>
<path stroke="#000" stroke-width="6" d="M437.5,452 Q434.5,449 434.2,443.5 M436.5,434.5 Q436.5,428.6 431.3,428.6 Q426.6,428.6 426.6,434.8 Q426.6,441 431.3,441 Q434,441 435.5,438 L447,424 Q452,420 457,421.5 L467,428 L462,436 L458.5,444 L458.5,457 Q457,464 451,459 M458,440 Q449,437 447,444 Q447,451 454,450"/>
<path stroke="#fff" stroke-width="2" d="M437.5,452 Q434.5,449 434.2,443.5 M436.5,434.5 Q436.5,428.6 431.3,428.6 Q426.6,428.6 426.6,434.8 Q426.6,441 431.3,441 Q434,441 435.5,438 L447,424 Q452,420 457,421.5 L467,428 L462,436 L458.5,444 L458.5,457 Q457,464 451,459 M458,440 Q449,437 447,444 Q447,451 454,450"/>
<path stroke="#000" stroke-width="5.5" d="M381,873 Q381,869 385,869 Q389,870 388,875 L383,876 L383.6,883.5 Q376,884 376,890 Q377,896 383,896 Q388,894 386,888 L400,893.8 M397,881 Q401,881 402,885 L402,903 Q400,907 396,905 Q393,901 395,896 L400,894 M405,891 L417.4,889.7 L428,897.8 L418.4,904.5 L408.2,899"/>
<path stroke="#fff" stroke-width="1.8" d="M381,873 Q381,869 385,869 Q389,870 388,875 L383,876 L383.6,883.5 Q376,884 376,890 Q377,896 383,896 Q388,894 386,888 L400,893.8 M397,881 Q401,881 402,885 L402,903 Q400,907 396,905 Q393,901 395,896 L400,894 M405,891 L417.4,889.7 L428,897.8 L418.4,904.5 L408.2,899"/>
<path stroke="#000" stroke-width="5.5" d="M373.4,924 Q376,921 373,918 L368,918 Q365,920 366.3,923 L367.3,935.7 L371.4,938.8 L385.7,931 L391.8,933.6 L393.9,947 M397,923.4 L391.8,928.5 L387,929"/>
<path stroke="#fff" stroke-width="1.8" d="M373.4,924 Q376,921 373,918 L368,918 Q365,920 366.3,923 L367.3,935.7 L371.4,938.8 L385.7,931 L391.8,933.6 L393.9,947 M397,923.4 L391.8,928.5 L387,929"/><path stroke="#000" stroke-width="2.2" fill="none" d="M391.2,947 L394.5,952 L420.8,938.5 L420.8,924.5 L418,919.5 L399.5,909.8 L393.8,910.3 L394.6,923"/><path stroke="#000" stroke-width="2" fill="none" d="M399,917.5 L412.3,925.3 L413.3,933.6 L399,941.5 Z"/>

</g>

<g fill="#000"><rect x="1438.2" y="71.8" width="1.5" height="1.5"/><rect x="1492.8" y="47.0" width="1.5" height="1.5"/><rect x="1444.6" y="70.3" width="1.5" height="1.5"/><rect x="1513.4" y="38.9" width="1.5" height="1.5"/><rect x="1476.6" y="51.0" width="1.5" height="1.5"/><rect x="1417.9" y="76.6" width="1.5" height="1.5"/><rect x="1485.4" y="45.5" width="1.5" height="1.5"/><rect x="1510.6" y="36.9" width="1.5" height="1.5"/><rect x="1443.6" y="62.3" width="1.5" height="1.5"/><rect x="1536.7" y="31.9" width="1.5" height="1.5"/><rect x="1521.7" y="36.7" width="1.5" height="1.5"/><rect x="1421.3" y="74.7" width="1.5" height="1.5"/><rect x="1475.2" y="50.2" width="1.5" height="1.5"/><rect x="1529.8" y="30.6" width="1.5" height="1.5"/><rect x="1437.5" y="73.5" width="1.5" height="1.5"/><rect x="1434.4" y="76.1" width="1.5" height="1.5"/><rect x="1471.7" y="56.5" width="1.5" height="1.5"/><rect x="1458.4" y="61.2" width="1.5" height="1.5"/><rect x="1438.2" y="64.5" width="1.5" height="1.5"/><rect x="1519.1" y="33.5" width="1.5" height="1.5"/><rect x="1508.9" y="37.4" width="1.5" height="1.5"/><rect x="1533.9" y="34.8" width="1.5" height="1.5"/><rect x="1508.1" y="43.9" width="1.5" height="1.5"/><rect x="1487.4" y="52.0" width="1.5" height="1.5"/><rect x="1432.4" y="71.8" width="1.5" height="1.5"/><rect x="1514.4" y="35.0" width="1.5" height="1.5"/><rect x="1528.5" y="37.0" width="1.5" height="1.5"/><rect x="1465.8" y="56.8" width="1.5" height="1.5"/><rect x="1470.8" y="55.0" width="1.5" height="1.5"/><rect x="1534.9" y="28.7" width="1.5" height="1.5"/><rect x="1419.6" y="72.8" width="1.5" height="1.5"/><rect x="1504.7" y="47.9" width="1.5" height="1.5"/><rect x="1476.5" y="53.9" width="1.5" height="1.5"/><rect x="1483.9" y="53.7" width="1.5" height="1.5"/><rect x="1444.6" y="68.3" width="1.5" height="1.5"/><rect x="1484.2" y="52.2" width="1.5" height="1.5"/><rect x="1438.0" y="66.1" width="1.5" height="1.5"/><rect x="1460.8" y="65.2" width="1.5" height="1.5"/><rect x="1459.3" y="62.1" width="1.5" height="1.5"/><rect x="1452.6" y="59.3" width="1.5" height="1.5"/><rect x="1427.0" y="77.8" width="1.5" height="1.5"/><rect x="1509.2" y="39.1" width="1.5" height="1.5"/><rect x="1499.3" y="46.5" width="1.5" height="1.5"/><rect x="1525.9" y="38.8" width="1.5" height="1.5"/><rect x="1468.0" y="63.0" width="1.5" height="1.5"/><rect x="1531.8" y="32.2" width="1.5" height="1.5"/><rect x="1522.2" y="35.1" width="1.5" height="1.5"/><rect x="1461.3" y="57.4" width="1.5" height="1.5"/><rect x="1520.0" y="32.3" width="1.5" height="1.5"/><rect x="1427.4" y="77.6" width="1.5" height="1.5"/><rect x="1509.3" y="40.3" width="1.5" height="1.5"/><rect x="1515.0" y="33.1" width="1.5" height="1.5"/><rect x="1447.6" y="63.5" width="1.5" height="1.5"/><rect x="1466.2" y="54.5" width="1.5" height="1.5"/><rect x="1425.6" y="73.1" width="1.5" height="1.5"/><rect x="1526.0" y="39.0" width="1.5" height="1.5"/><rect x="1505.9" y="41.6" width="1.5" height="1.5"/><rect x="1449.6" y="70.2" width="1.5" height="1.5"/><rect x="1480.9" y="54.7" width="1.5" height="1.5"/><rect x="1420.2" y="73.9" width="1.5" height="1.5"/><rect x="1518.1" y="40.2" width="1.5" height="1.5"/><rect x="1522.4" y="36.2" width="1.5" height="1.5"/><rect x="1468.6" y="58.1" width="1.5" height="1.5"/><rect x="1517.5" y="35.0" width="1.5" height="1.5"/><rect x="1480.2" y="49.9" width="1.5" height="1.5"/><rect x="1506.7" y="36.0" width="1.5" height="1.5"/><rect x="1500.7" y="49.1" width="1.5" height="1.5"/><rect x="1421.1" y="77.8" width="1.5" height="1.5"/><rect x="1495.4" y="50.2" width="1.5" height="1.5"/><rect x="1486.0" y="47.3" width="1.5" height="1.5"/><rect x="1467.7" y="62.7" width="1.5" height="1.5"/><rect x="1523.4" y="30.6" width="1.5" height="1.5"/><rect x="1427.6" y="69.5" width="1.5" height="1.5"/><rect x="1420.8" y="76.3" width="1.5" height="1.5"/><rect x="1436.1" y="74.7" width="1.5" height="1.5"/><rect x="1493.9" y="42.6" width="1.5" height="1.5"/><rect x="1480.9" y="50.2" width="1.5" height="1.5"/><rect x="1475.2" y="51.4" width="1.5" height="1.5"/><rect x="1436.3" y="66.9" width="1.5" height="1.5"/><rect x="1463.4" y="61.7" width="1.5" height="1.5"/><rect x="1481.1" y="47.0" width="1.5" height="1.5"/><rect x="1503.4" y="47.1" width="1.5" height="1.5"/><rect x="1510.5" y="43.2" width="1.5" height="1.5"/><rect x="1418.8" y="77.3" width="1.5" height="1.5"/><rect x="1426.5" y="77.5" width="1.5" height="1.5"/><rect x="1439.5" y="71.5" width="1.5" height="1.5"/><rect x="1448.6" y="67.6" width="1.5" height="1.5"/><rect x="1453.2" y="58.4" width="1.5" height="1.5"/><rect x="1463.1" y="57.3" width="1.5" height="1.5"/><rect x="1523.5" y="32.3" width="1.5" height="1.5"/><rect x="1477.6" y="54.1" width="1.5" height="1.5"/><rect x="1528.3" y="28.1" width="1.5" height="1.5"/><rect x="1489.0" y="48.9" width="1.5" height="1.5"/><rect x="1506.5" y="46.9" width="1.5" height="1.5"/><rect x="1455.4" y="64.9" width="1.5" height="1.5"/><rect x="1480.3" y="53.1" width="1.5" height="1.5"/><rect x="1426.8" y="77.9" width="1.5" height="1.5"/><rect x="1532.7" y="29.2" width="1.5" height="1.5"/><rect x="1457.5" y="67.3" width="1.5" height="1.5"/><rect x="1429.0" y="68.7" width="1.5" height="1.5"/><rect x="1427.9" y="77.5" width="1.5" height="1.5"/><rect x="1507.5" y="40.6" width="1.5" height="1.5"/><rect x="1489.4" y="43.2" width="1.5" height="1.5"/><rect x="1493.8" y="46.2" width="1.5" height="1.5"/><rect x="1478.6" y="51.8" width="1.5" height="1.5"/><rect x="1464.3" y="55.9" width="1.5" height="1.5"/><rect x="1423.5" y="75.0" width="1.5" height="1.5"/><rect x="1448.0" y="68.0" width="1.5" height="1.5"/><rect x="1515.3" y="40.5" width="1.5" height="1.5"/><rect x="1470.8" y="53.3" width="1.5" height="1.5"/><rect x="1402.9" y="116.3" width="1.5" height="1.5"/><rect x="1405.6" y="140.2" width="1.5" height="1.5"/><rect x="1399.5" y="116.0" width="1.5" height="1.5"/><rect x="1404.1" y="127.9" width="1.5" height="1.5"/><rect x="1408.6" y="131.0" width="1.5" height="1.5"/><rect x="1405.6" y="129.9" width="1.5" height="1.5"/><rect x="1406.0" y="134.9" width="1.5" height="1.5"/><rect x="1406.4" y="126.1" width="1.5" height="1.5"/><rect x="1401.3" y="137.8" width="1.5" height="1.5"/><rect x="1402.9" y="122.7" width="1.5" height="1.5"/><rect x="1407.8" y="140.2" width="1.5" height="1.5"/><rect x="1409.7" y="92.3" width="1.5" height="1.5"/><rect x="1402.0" y="107.6" width="1.5" height="1.5"/><rect x="1402.9" y="99.3" width="1.5" height="1.5"/><rect x="1404.8" y="96.0" width="1.5" height="1.5"/><rect x="1401.9" y="139.2" width="1.5" height="1.5"/><rect x="1406.9" y="115.1" width="1.5" height="1.5"/><rect x="1399.7" y="139.8" width="1.5" height="1.5"/><rect x="1406.5" y="102.3" width="1.5" height="1.5"/><rect x="1402.3" y="124.1" width="1.5" height="1.5"/><rect x="1406.2" y="105.0" width="1.5" height="1.5"/><rect x="1409.2" y="108.1" width="1.5" height="1.5"/><rect x="1401.4" y="134.3" width="1.5" height="1.5"/><rect x="1400.2" y="126.1" width="1.5" height="1.5"/><rect x="1400.8" y="121.9" width="1.5" height="1.5"/><rect x="1401.6" y="110.9" width="1.5" height="1.5"/><rect x="1409.1" y="115.3" width="1.5" height="1.5"/><rect x="1403.4" y="122.9" width="1.5" height="1.5"/><rect x="1401.7" y="100.7" width="1.5" height="1.5"/><rect x="1402.8" y="105.6" width="1.5" height="1.5"/><rect x="1400.6" y="140.0" width="1.5" height="1.5"/><rect x="1398.9" y="132.5" width="1.5" height="1.5"/><rect x="1409.1" y="127.2" width="1.5" height="1.5"/><rect x="1398.7" y="117.1" width="1.5" height="1.5"/><rect x="1398.9" y="122.4" width="1.5" height="1.5"/><rect x="1406.4" y="104.0" width="1.5" height="1.5"/><rect x="1398.6" y="119.2" width="1.5" height="1.5"/><rect x="1399.6" y="107.4" width="1.5" height="1.5"/><rect x="1403.6" y="136.7" width="1.5" height="1.5"/><rect x="1402.7" y="98.7" width="1.5" height="1.5"/><rect x="1407.4" y="133.1" width="1.5" height="1.5"/><rect x="1404.5" y="94.5" width="1.5" height="1.5"/><rect x="1400.6" y="112.1" width="1.5" height="1.5"/><rect x="1404.7" y="103.3" width="1.5" height="1.5"/><rect x="1407.6" y="134.2" width="1.5" height="1.5"/><rect x="1409.0" y="136.2" width="1.5" height="1.5"/><rect x="1398.7" y="121.1" width="1.5" height="1.5"/><rect x="1399.4" y="137.0" width="1.5" height="1.5"/><rect x="1406.9" y="130.0" width="1.5" height="1.5"/><rect x="1400.6" y="95.0" width="1.5" height="1.5"/><rect x="1407.7" y="122.3" width="1.5" height="1.5"/><rect x="1405.5" y="115.6" width="1.5" height="1.5"/><rect x="1407.5" y="108.9" width="1.5" height="1.5"/><rect x="1401.5" y="109.7" width="1.5" height="1.5"/><rect x="1401.9" y="123.4" width="1.5" height="1.5"/><rect x="1408.6" y="95.6" width="1.5" height="1.5"/><rect x="1399.3" y="117.6" width="1.5" height="1.5"/><rect x="1406.2" y="101.5" width="1.5" height="1.5"/><rect x="1401.5" y="94.9" width="1.5" height="1.5"/><rect x="1398.9" y="116.8" width="1.5" height="1.5"/><rect x="1406.2" y="124.7" width="1.5" height="1.5"/><rect x="1400.3" y="97.2" width="1.5" height="1.5"/><rect x="1409.0" y="118.9" width="1.5" height="1.5"/><rect x="1403.1" y="126.5" width="1.5" height="1.5"/><rect x="1406.7" y="118.2" width="1.5" height="1.5"/><rect x="1399.4" y="133.4" width="1.5" height="1.5"/><rect x="1400.9" y="94.0" width="1.5" height="1.5"/><rect x="1402.5" y="118.6" width="1.5" height="1.5"/><rect x="1405.6" y="100.7" width="1.5" height="1.5"/><rect x="1406.5" y="116.7" width="1.5" height="1.5"/><rect x="1407.2" y="89.5" width="1.5" height="1.5"/><rect x="1413.1" y="81.4" width="1.5" height="1.5"/><rect x="1415.2" y="88.0" width="1.5" height="1.5"/><rect x="1412.7" y="81.6" width="1.5" height="1.5"/><rect x="1409.5" y="84.0" width="1.5" height="1.5"/><rect x="1416.7" y="85.6" width="1.5" height="1.5"/><rect x="1415.2" y="80.4" width="1.5" height="1.5"/><rect x="1416.8" y="89.5" width="1.5" height="1.5"/><rect x="1410.3" y="87.8" width="1.5" height="1.5"/><rect x="1411.3" y="84.3" width="1.5" height="1.5"/><rect x="1415.4" y="88.6" width="1.5" height="1.5"/><rect x="1416.0" y="84.3" width="1.5" height="1.5"/><rect x="1416.5" y="87.5" width="1.5" height="1.5"/><rect x="1416.7" y="83.9" width="1.5" height="1.5"/><rect x="1413.4" y="83.1" width="1.5" height="1.5"/></g>
<g id="labels" font-size="30" stroke="#000" stroke-width="0.85" fill="#000"><text x="381.1" y="384.9">8</text><text x="514.0" y="438.8">7</text><text x="257.8" y="570.3">6</text><text x="314.0" y="886.9">7</text><text x="316.6" y="927.3">8</text><text x="579.5" y="290.3">2</text><text x="920.3" y="150.5">9</text><text x="1349.3" y="414.3">5</text><text x="1156.2" y="530.0">4</text><text x="893.7" y="737.1">3</text><text x="1301.2" y="33.7">3</text><text x="1506.9" y="175.7">4</text><text x="1357.2" y="241.3">2</text><text x="1044.6" y="542.9">0</text></g><g fill="#000" stroke="none"><path d="M1449.3138613861386,160.8 L1452.368811881188,160.8 L1452.368811881188,179.5 L1449.3138613861386,179.5 L1449.3138613861386,166.72475247524753 Q1447.2772277227723,168.20594059405943 1444.5,168.76138613861386 L1444.5,165.9841584158416 Q1447.5549504950495,164.87326732673267 1449.3138613861386,160.8 Z"/><path d="M654.9000000000001,212.2 L658.2,212.2 L658.2,232.4 L654.9000000000001,232.4 L654.9000000000001,218.6 Q652.7,220.2 649.7,220.79999999999998 L649.7,217.79999999999998 Q653.0,216.6 654.9000000000001,212.2 Z"/><path d="M669.9000000000001,212.2 L673.2,212.2 L673.2,232.4 L669.9000000000001,232.4 L669.9000000000001,218.6 Q667.7,220.2 664.7,220.79999999999998 L664.7,217.79999999999998 Q668.0,216.6 669.9000000000001,212.2 Z"/><path d="M820.9000000000001,740.8 L824.2,740.8 L824.2,761.0 L820.9000000000001,761.0 L820.9000000000001,747.1999999999999 Q818.7,748.8 815.7,749.4 L815.7,746.4 Q819.0,745.1999999999999 820.9000000000001,740.8 Z"/><path d="M835.9000000000001,740.8 L839.2,740.8 L839.2,761.0 L835.9000000000001,761.0 L835.9000000000001,747.1999999999999 Q833.7,748.8 830.7,749.4 L830.7,746.4 Q834.0,745.1999999999999 835.9000000000001,740.8 Z"/><path d="M1294.480198019802,12.5 L1297.8945544554454,12.5 L1297.8945544554454,33.4 L1294.480198019802,33.4 L1294.480198019802,19.12178217821782 Q1292.2039603960395,20.777227722772277 1289.1,21.398019801980197 L1289.1,18.294059405940594 Q1292.5143564356435,17.052475247524754 1294.480198019802,12.5 Z"/><path d="M1499.080198019802,154.5 L1502.4945544554455,154.5 L1502.4945544554455,175.4 L1499.080198019802,175.4 L1499.080198019802,161.1217821782178 Q1496.8039603960397,162.77722772277227 1493.7,163.3980198019802 L1493.7,160.2940594059406 Q1497.1143564356437,159.05247524752474 1499.080198019802,154.5 Z"/><path d="M1352.0485148514852,221 L1355.3158415841585,221 L1355.3158415841585,241 L1352.0485148514852,241 L1352.0485148514852,227.33663366336634 Q1349.8702970297031,228.92079207920793 1346.9,229.5148514851485 L1346.9,226.54455445544554 Q1350.1673267326732,225.35643564356437 1352.0485148514852,221 Z"/><path d="M1038.1059405940593,521.6 L1041.5366336633663,521.6 L1041.5366336633663,542.6 L1038.1059405940593,542.6 L1038.1059405940593,528.2534653465347 Q1035.8188118811881,529.9168316831683 1032.7,530.540594059406 L1032.7,527.4217821782179 Q1036.130693069307,526.1742574257426 1038.1059405940593,521.6 Z"/></g><g fill="#000" stroke="none"><path d="M961.1,37.9 h17.8 v4.8 h-11.1 v3.6 h10 v4.6 h-10 v4.2 h12 v4.8 h-18.7 Z"/><rect x="981.1" y="49.2" width="9.6" height="4.6"/><path d="M1000.1,36.9 L1005.9,36.9 L1005.9,59.9 L1000.1,59.9 L1000.1,45.2 L993,47.8 L993,43.2 Z"/><path fill-rule="evenodd" d="M1021.4,36.9 L1027.9,36.9 L1027.9,50.5 L1030.8,50.5 L1030.8,55.1 L1027.9,55.1 L1027.9,58.8 L1023.1,58.8 L1023.1,55.1 L1011,55.1 L1011,50.3 Z M1023.1,44 L1017.3,50.5 L1023.1,50.5 Z"/><path d="M1681.7,50.1 h17.8 v4.8 h-11.1 v3.6 h10 v4.6 h-10 v4.2 h12 v4.8 h-18.7 Z"/><rect x="1702.2" y="62.1" width="8.6" height="4.6"/></g><path fill="none" stroke="#000" stroke-width="5.2" stroke-linecap="butt" stroke-linejoin="round" d="M1715.2,59.8 Q1715.2,53.4 1721.2,53.4 Q1727.6,53.4 1727.6,59 Q1727.6,62.8 1722,65.6 L1714.6,70"/><rect x="1711.7" y="67.6" width="18.8" height="5.1"/><text transform="translate(1714,867) rotate(24)" font-weight="bold" font-size="29" letter-spacing="2" stroke="#000" stroke-width="1.6">FR.</text>
</svg>
</body></html>
